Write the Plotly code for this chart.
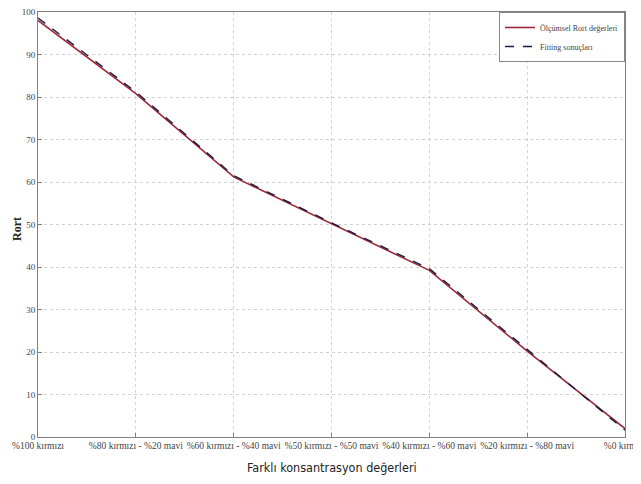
import plotly.graph_objects as go

categories = ["%100 kırmızı", "%80 kırmızı - %20 mavi", "%60 kırmızı - %40 mavi",
              "%50 kırmızı - %50 mavi", "%40 kırmızı - %60 mavi",
              "%20 kırmızı - %80 mavi", "%0 kırmızı"]
x_pos = [0, 1, 2, 3, 4, 5, 6]
measured = [98, 80.8, 61.2, 50.2, 39.2, 20.2, 2.0]
fitted = [98.6, 81.2, 61.5, 50.4, 39.6, 20.6, 1.6]
y_ticks = [0, 10, 20, 30, 40, 50, 60, 70, 80, 90, 100]

fig = go.Figure()
fig.add_trace(go.Scatter(x=x_pos, y=measured, mode="lines", name="Ölçümsel Rort değerleri",
                         line=dict(color="#9a2a3a", width=1.6)))
fig.add_trace(go.Scatter(x=x_pos, y=fitted, mode="lines", name="Fitting sonuçları",
                         line=dict(color="#1a1a40", width=1.4, dash="dash")))

axis_common = dict(showline=True, linecolor="#808080", linewidth=1, mirror=True,
                   showgrid=True, gridcolor="#d2d2d2", griddash="dot", gridwidth=1,
                   ticks="inside", ticklen=4, tickcolor="#808080", zeroline=False,
                   automargin=False, ticklabeloverflow="allow")

fig.update_layout(
    width=641, height=484,
    margin=dict(l=30, r=24, t=4, b=55),
    paper_bgcolor="white", plot_bgcolor="white",
    font=dict(family="Liberation Serif", size=9, color="#444"),
    xaxis=dict(tickmode="array", tickvals=x_pos, ticktext=categories, range=[0, 6],
               tickfont=dict(size=9.5, family="Liberation Serif", color="#444"), **axis_common),
    yaxis=dict(tickmode="array", tickvals=y_ticks, range=[0, 100],
               tickfont=dict(size=9, family="Liberation Serif", color="#444"), **axis_common),
    legend=dict(x=1.0, y=1.0, xanchor="right", yanchor="top",
                bgcolor="white", bordercolor="#888", borderwidth=1,
                font=dict(size=8, family="Liberation Serif", color="#444"),
                tracegroupgap=0, itemwidth=30),
    showlegend=True,
    annotations=[
        dict(text="Farklı konsantrasyon değerleri", xref="paper", yref="paper",
             x=0.50, y=-0.072, xanchor="center", yanchor="middle", showarrow=False,
             font=dict(family="DejaVu Sans Condensed, Liberation Sans", size=12.5, color="#222")),
        dict(text="<b>Rort</b>", xref="paper", yref="paper",
             x=-0.037, y=0.49, xanchor="center", yanchor="middle", showarrow=False,
             textangle=-90,
             font=dict(family="Liberation Serif", size=12, color="#222")),
    ],
)

fig.write_html("out.html")
